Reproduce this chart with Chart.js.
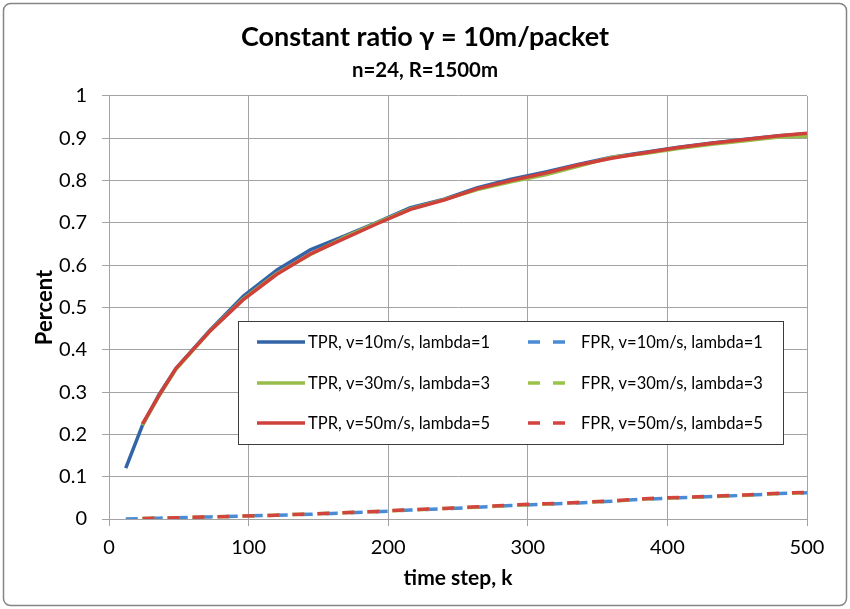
<!DOCTYPE html>
<html>
<head>
<meta charset="utf-8">
<title>Constant ratio γ = 10m/packet</title>
<script src="https://cdn.jsdelivr.net/npm/chart.js@4.4.1/dist/chart.umd.min.js"></script>
<style>
  html, body { margin: 0; padding: 0; background: #ffffff; }
  canvas { display: block; }
</style>
</head>
<body>
<canvas id="chart" width="850" height="609"></canvas>
<script>
// Time steps at which the rates were sampled
const steps = [12, 24, 36, 48, 72, 96, 120, 144, 168, 192, 216, 240, 264, 288, 312, 336, 360, 384, 408, 432, 456, 480, 500];

// True positive rate per scenario
const tprV10 = [0.120, 0.222, 0.295, 0.356, 0.445, 0.526, 0.588, 0.636, 0.668, 0.701, 0.736, 0.756, 0.783, 0.803, 0.820, 0.838, 0.855, 0.867, 0.879, 0.889, 0.898, 0.906, 0.911];
const tprV30 = [null, 0.222, 0.292, 0.354, 0.443, 0.520, 0.580, 0.625, 0.665, 0.700, 0.733, 0.755, 0.779, 0.797, 0.813, 0.834, 0.855, 0.864, 0.876, 0.886, 0.894, 0.903, 0.905];
const tprV50 = [null, 0.225, 0.293, 0.356, 0.443, 0.518, 0.578, 0.626, 0.662, 0.698, 0.732, 0.754, 0.781, 0.800, 0.817, 0.837, 0.853, 0.866, 0.878, 0.888, 0.897, 0.906, 0.912];

// False positive rate per scenario
const fprV10 = [0.000, 0.001, 0.002, 0.003, 0.005, 0.007, 0.009, 0.011, 0.014, 0.017, 0.021, 0.024, 0.028, 0.032, 0.035, 0.038, 0.042, 0.047, 0.050, 0.053, 0.056, 0.060, 0.062];
const fprV30 = [null, 0.001, 0.002, 0.003, 0.005, 0.007, 0.009, 0.012, 0.015, 0.018, 0.021, 0.025, 0.028, 0.032, 0.035, 0.039, 0.042, 0.047, 0.050, 0.053, 0.056, 0.060, 0.062];
const fprV50 = [null, 0.001, 0.002, 0.003, 0.005, 0.007, 0.009, 0.012, 0.015, 0.018, 0.022, 0.025, 0.029, 0.033, 0.036, 0.039, 0.043, 0.048, 0.051, 0.054, 0.057, 0.061, 0.063];

// Axis tick labels
const xTickValues = [0, 100, 200, 300, 400, 500];
const yTickValues = [0, 0.1, 0.2, 0.3, 0.4, 0.5, 0.6, 0.7, 0.8, 0.9, 1];
const yTickLabels = ['0', '0.1', '0.2', '0.3', '0.4', '0.5', '0.6', '0.7', '0.8', '0.9', '1'];

// Legend / series names
const seriesNames = [
  'TPR, v=10m/s, lambda=1', 'FPR, v=10m/s, lambda=1',
  'TPR, v=30m/s, lambda=3', 'FPR, v=30m/s, lambda=3',
  'TPR, v=50m/s, lambda=5', 'FPR, v=50m/s, lambda=5'
];

const FONT = 'Lato, "Open Sans", sans-serif';
const GRID = '#a3a3a3';

function points(values) {
  const out = [];
  values.forEach((v, i) => { if (v !== null) out.push({ x: steps[i], y: v }); });
  return out;
}

function series(label, values, color, dashed, order) {
  return {
    label: label,
    data: points(values),
    borderColor: color,
    backgroundColor: color,
    borderWidth: 3.5,
    borderDash: dashed ? [12, 13] : [],
    borderCapStyle: 'butt',
    borderJoinStyle: 'round',
    pointRadius: 0,
    pointHoverRadius: 0,
    tension: 0,
    fill: false,
    order: order
  };
}

const datasets = [
  series(seriesNames[0], tprV10, '#3464a8', false, 5),
  series(seriesNames[1], fprV10, '#4a8bd6', true, 2),
  series(seriesNames[2], tprV30, '#98bd4a', false, 4),
  series(seriesNames[3], fprV30, '#9ac24b', true, 1),
  series(seriesNames[4], tprV50, '#cf403a', false, 3),
  series(seriesNames[5], fprV50, '#d2443e', true, 0)
];

// White page with a rounded grey frame around the whole chart
const framePlugin = {
  id: 'frame',
  beforeDraw(chart) {
    const ctx = chart.ctx;
    ctx.save();
    ctx.fillStyle = '#ffffff';
    ctx.fillRect(0, 0, chart.width, chart.height);
    ctx.strokeStyle = '#858585';
    ctx.lineWidth = 1.5;
    ctx.beginPath();
    ctx.roundRect(3.5, 3.5, chart.width - 7, chart.height - 7, 7);
    ctx.stroke();
    ctx.restore();
  }
};

// Two-column boxed legend placed inside the plot area
const insideLegend = {
  id: 'insideLegend',
  afterDraw(chart) {
    const ctx = chart.ctx;
    const box = { x: 238.5, y: 321.5, w: 545, h: 123 };
    ctx.save();
    ctx.fillStyle = '#ffffff';
    ctx.fillRect(box.x, box.y, box.w, box.h);
    ctx.strokeStyle = '#3c3c3c';
    ctx.lineWidth = 1;
    ctx.strokeRect(box.x, box.y, box.w, box.h);

    const rowY = [342, 383, 423];
    const colSample = [257, 518];
    const colText = [308, 581];
    ctx.font = '16.5px ' + FONT;
    ctx.textBaseline = 'middle';
    ctx.textAlign = 'left';
    chart.data.datasets.forEach((ds, i) => {
      const row = Math.floor(i / 2);
      const col = i % 2;
      const y = rowY[row];
      ctx.strokeStyle = ds.borderColor;
      ctx.lineWidth = 3.5;
      ctx.lineCap = 'butt';
      if (ds.borderDash.length) {
        ctx.setLineDash([12, 13]);
        ctx.lineDashOffset = -10;
      } else {
        ctx.setLineDash([]);
        ctx.lineDashOffset = 0;
      }
      ctx.beginPath();
      ctx.moveTo(colSample[col], y);
      ctx.lineTo(colSample[col] + 48, y);
      ctx.stroke();
      ctx.setLineDash([]);
      ctx.fillStyle = '#000000';
      ctx.fillText(ds.label, colText[col], y + 1);
    });
    ctx.restore();
  }
};

new Chart(document.getElementById('chart'), {
  type: 'line',
  data: { datasets: datasets },
  plugins: [framePlugin, insideLegend],
  options: {
    responsive: false,
    animation: false,
    devicePixelRatio: 1,
    layout: { padding: { top: 0, right: 0, bottom: 0, left: 0 } },
    plugins: {
      legend: { display: false },
      tooltip: { enabled: false },
      title: {
        display: true,
        text: 'Constant ratio γ = 10m/packet',
        color: '#000000',
        font: { family: FONT, size: 27, weight: 'bold' },
        padding: { top: 20.8, bottom: 2 }
      },
      subtitle: {
        display: true,
        text: 'n=24, R=1500m',
        color: '#000000',
        font: { family: FONT, size: 20.4, weight: 'bold' },
        padding: { top: 2.6, bottom: 13.7 }
      }
    },
    scales: {
      x: {
        type: 'linear',
        position: 'bottom',
        min: 0,
        max: 500,
        afterBuildTicks(scale) { scale.ticks = xTickValues.map(v => ({ value: v })); },
        afterFit(scale) { scale.height = 90; scale.paddingRight = 43; },
        grid: { color: GRID, lineWidth: 1, drawTicks: true, tickLength: 7, tickColor: GRID },
        border: { color: GRID, width: 1 },
        ticks: {
          color: '#000000',
          font: { family: FONT, size: 20 },
          padding: 10,
          maxRotation: 0,
          autoSkip: false,
          callback: v => String(v)
        },
        title: {
          display: true,
          text: 'time step, k',
          color: '#000000',
          font: { family: FONT, size: 21, weight: 'bold' },
          padding: { top: 0, bottom: 18.4 }
        }
      },
      y: {
        type: 'linear',
        min: 0,
        max: 1,
        afterBuildTicks(scale) { scale.ticks = yTickValues.map(v => ({ value: v })); },
        afterFit(scale) { scale.width = 109; },
        grid: { color: GRID, lineWidth: 1, drawTicks: true, tickLength: 7, tickColor: GRID },
        border: { color: GRID, width: 1 },
        ticks: {
          color: '#000000',
          font: { family: FONT, size: 20 },
          padding: 15,
          autoSkip: false,
          callback: (v) => yTickLabels[yTickValues.indexOf(v)] ?? String(v)
        },
        title: {
          display: true,
          text: 'Percent',
          color: '#000000',
          font: { family: FONT, size: 22, weight: 'bold' },
          padding: { top: 31.8, bottom: 0 }
        }
      }
    }
  }
});
</script>
</body>
</html>
